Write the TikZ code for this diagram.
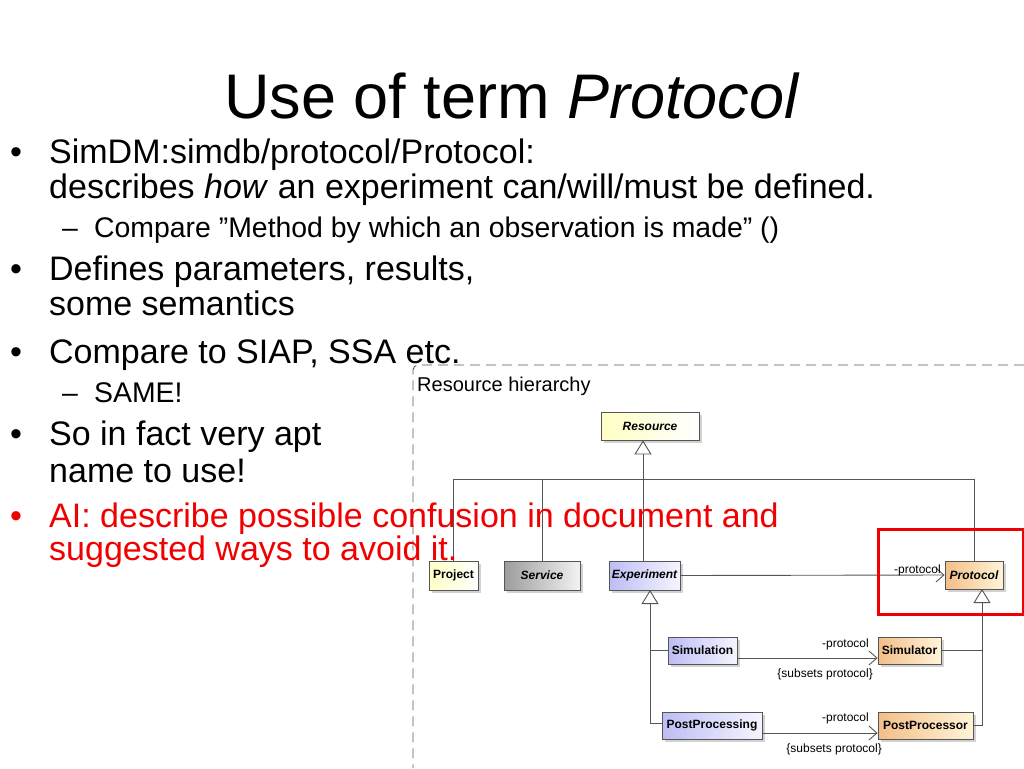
\documentclass[tikz,border=0pt]{standalone}
\usepackage{fontspec}
\setmainfont{Liberation Sans}
\usepackage{tikz}
\usetikzlibrary{arrows.meta,shadows}

\definecolor{trait}{HTML}{555555}
\definecolor{jaune}{HTML}{FFFFC4}
\definecolor{gris}{HTML}{9C9C9C}
\definecolor{mauve}{HTML}{BDBDF5}
\definecolor{orange1}{HTML}{F3BE88}
\definecolor{orange2}{HTML}{FFF4D8}
\definecolor{rouge}{HTML}{F00000}

\begin{document}
\begin{tikzpicture}[x=1pt,y=-1pt,
    big/.style={anchor=base west,font=\fontsize{34}{36}\selectfont},
    small/.style={anchor=base west,font=\fontsize{28.4}{30}\selectfont},
    classe/.style={draw=trait,line width=0.8pt,inner sep=0pt,minimum height=28pt,
      font=\fontsize{12}{14}\selectfont\bfseries,
      drop shadow={shadow xshift=2.5pt,shadow yshift=-2.5pt,fill=black!35}},
    jbox/.style={classe,left color=jaune,right color=white},
    gbox/.style={classe,left color=gris,right color=white!95!black},
    mbox/.style={classe,left color=mauve,right color=white!96!blue},
    obox/.style={classe,left color=orange1,right color=orange2},
    etiq/.style={font=\fontsize{12}{14}\selectfont,inner sep=0pt},
    lien/.style={draw=trait,line width=0.9pt},
    assoc/.style={lien,-{Straight Barb[length=8pt,width=14pt]}},
    gen/.style={lien,-{Triangle[open,length=14pt,width=17pt]}}]

      \fill[white] (0,0) rectangle (1024,768);
      \useasboundingbox (0,0) rectangle (1024,768);

      %Cadre du diagramme
      \draw[draw=trait,line width=0.9pt,dash pattern=on 10pt off 6pt,rounded corners=5pt]
        (1024,365) -- (413,365) -- (413,768);
      \node[anchor=base west,font=\fontsize{20}{22}\selectfont,inner sep=0pt] (Hierarchie) at (417,391) {Resource hierarchy};

      %Classes
      \node[jbox,minimum width=98pt] (Resource) at (650,426) {\itshape Resource};
      \node[jbox,minimum width=49pt,minimum height=29pt] (Project) at (453.5,575.5) {Project};
      \node[gbox,minimum width=76pt,minimum height=29pt] (Service) at (542,575.5) {\itshape Service};
      \node[mbox,minimum width=71pt,minimum height=29pt] (Experiment) at (644.5,575.5) {\itshape Experiment};
      \node[obox,minimum width=58pt] (Protocol) at (974,575) {\itshape Protocol};
      \node[mbox,minimum width=69pt,minimum height=27pt] (Simulation) at (702.5,650.5) {Simulation};
      \node[obox,minimum width=63pt,minimum height=27pt] (Simulator) at (909.5,650.5) {Simulator};
      \node[mbox,minimum width=100pt,minimum height=27pt] (PostProcessing) at (712,725.5) {PostProcessing};
      \node[obox,minimum width=95pt,minimum height=27pt] (PostProcessor) at (925.5,725.5) {PostProcessor};

      %Points de jonction
      \coordinate (Bus) at (643,479);
      \coordinate (PiedExp) at (650,590);
      \coordinate (PiedProt) at (982,589);

      %Heritage vers Resource
      \draw[lien] (Project.north) -- (Project.north |- Bus) -- (Protocol.north |- Bus) -- (Protocol.north);
      \draw[lien] (Service.north) -- (Service.north |- Bus);
      \draw[gen] (Experiment.north -| Bus) -- (Resource.south -| Bus);

      %Heritage vers Experiment et Protocol
      \draw[lien] (Simulation.west) -- (Simulation.west -| PiedExp);
      \draw[gen] (PostProcessing.west |- 0,723) -| (PiedExp);
      \draw[lien] (Simulator.east) -- (Simulator.east -| PiedProt);
      \draw[gen] (PostProcessor.east) -| (PiedProt);

      %Associations
      \draw[assoc] (Experiment.east) -- (Protocol.west);
      \node[etiq,anchor=base east] (Role1) at (941,573) {-protocol};
      \draw[assoc] ([yshift=-7.5pt]Simulation.east) -- ([yshift=-7.5pt]Simulator.west);
      \node[etiq,anchor=base east] (Role2) at (869,647) {-protocol};
      \node[etiq,anchor=base east] (Sub2) at (873,677) {\{subsets protocol\}};
      \draw[assoc] ([yshift=-7.5pt]PostProcessing.east) -- ([yshift=-7.5pt]PostProcessor.west);
      \node[etiq,anchor=base east] (Role3) at (869,721) {-protocol};
      \node[etiq,anchor=base east] (Sub3) at (882,752) {\{subsets protocol\}};

      %Cadre rouge
      \draw[rouge,line width=3pt] (878,529) rectangle (1023,614);

      %Titre
      \node[anchor=base,font=\fontsize{63}{66}\selectfont,inner sep=0pt] (Titre) at (512,118) {Use of term \textit{Protocol}};

      %Puces
      \node[big,inner sep=0pt] (Puce1) at (10,163) {•};
      \node[big,inner sep=0pt] (Ligne1a) at (49,163) {SimDM:simdb/protocol/Protocol:};
      \node[big,inner sep=0pt] (Ligne1b) at (49,198) {describes \textit{how} an experiment can/will/must be defined.};
      \node[small,inner sep=0pt] (Tiret1) at (62,237) {–};
      \node[small,inner sep=0pt] (Ligne1c) at (94,237) {Compare ”Method by which an observation is made” ()};

      \node[big,inner sep=0pt] (Puce2) at (10,280) {•};
      \node[big,inner sep=0pt] (Ligne2a) at (49,280) {Defines parameters, results,};
      \node[big,inner sep=0pt] (Ligne2b) at (49,315) {some semantics};

      \node[big,inner sep=0pt] (Puce3) at (10,363) {•};
      \node[big,inner sep=0pt] (Ligne3a) at (49,363) {Compare to SIAP, SSA etc.};
      \node[small,inner sep=0pt] (Tiret3) at (62,402) {–};
      \node[small,inner sep=0pt] (Ligne3b) at (94,402) {SAME!};

      \node[big,inner sep=0pt] (Puce4) at (10,445) {•};
      \node[big,inner sep=0pt] (Ligne4a) at (49,445) {So in fact very apt};
      \node[big,inner sep=0pt] (Ligne4b) at (49,482) {name to use!};

      \node[big,inner sep=0pt,rouge] (Puce5) at (10,527) {•};
      \node[big,inner sep=0pt,rouge] (Ligne5a) at (49,527) {AI: describe possible confusion in document and};
      \node[big,inner sep=0pt,rouge] (Ligne5b) at (49,560) {suggested ways to avoid it.};
\end{tikzpicture}
\end{document}
